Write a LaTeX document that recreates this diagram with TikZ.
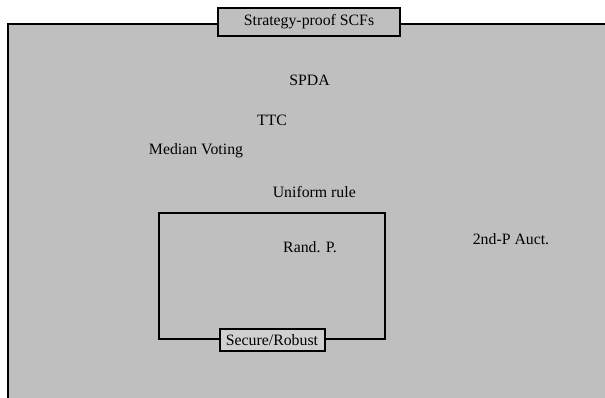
\documentclass[tikz,border=0pt]{standalone}
\usepackage{fontspec}
\setmainfont{Liberation Serif}
\definecolor{bggray}{HTML}{BFBFBF}
\definecolor{lightbox}{HTML}{D0D0D0}
\begin{document}
\begin{tikzpicture}[x=1pt,y=-1pt,
  lbl/.style={font=\fontsize{15.8}{18}\selectfont, inner sep=0pt, anchor=base},
  tagbox/.style={draw=black, line width=2pt, font=\fontsize{15.8}{18}\selectfont, inner sep=0pt, minimum height=#1},
  frame/.style={draw=black, line width=2pt}
]
\useasboundingbox (0,0) rectangle (605,398);
\clip (0,0) rectangle (605,398);
\fill[white] (0,0) rectangle (605,398);
% outer set
\path[frame, fill=bggray] (8,24) rectangle (615,410);
\node[tagbox=28pt, fill=bggray, minimum width=182pt] (title) at (309,22) {Strategy-proof SCFs};
% labels
\node[lbl] (spda) at (309.5,86) {SPDA};
\node[lbl] (ttc) at (272,126) {TTC};
\node[lbl] (median) at (196,155) {Median Voting};
\node[lbl] (uniform) at (314.3,197.5) {Uniform rule};
\node[lbl] (auct) at (511,244) {2nd-P Auct.};
% inner set
\draw[frame] (159,213) rectangle (385,339);
\node[lbl] (randp) at (310,252) {Rand. P.};
\node[tagbox=22pt, fill=lightbox, minimum width=105pt] (secure) at (272,340) {Secure/Robust};
\end{tikzpicture}
\end{document}
